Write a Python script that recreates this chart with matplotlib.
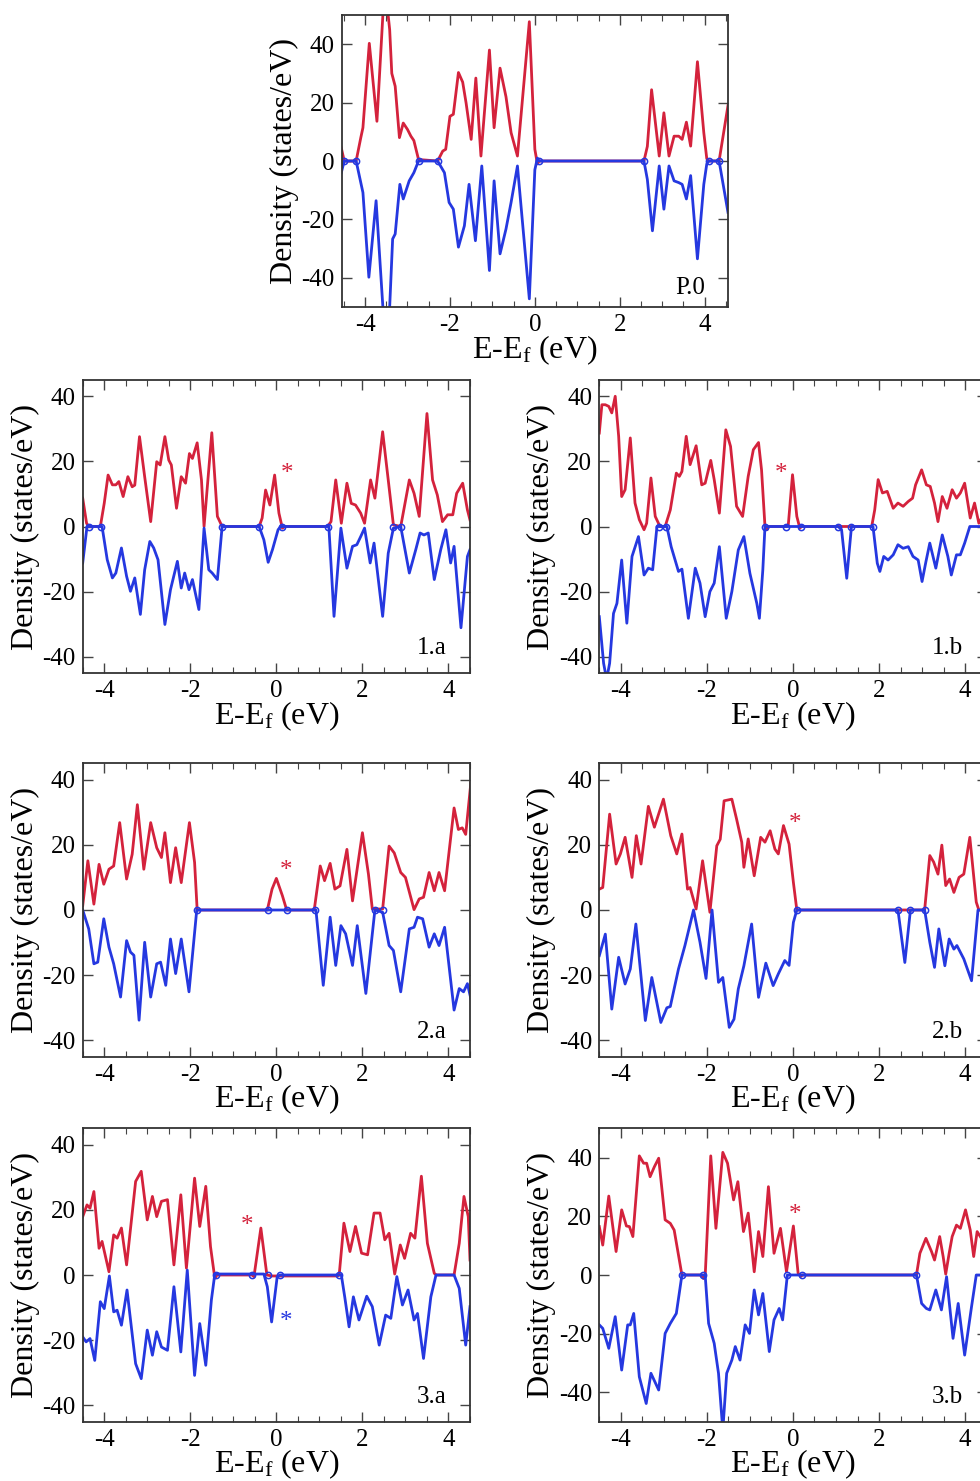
import numpy as np
import matplotlib
matplotlib.use('agg')
import matplotlib.pyplot as plt
from matplotlib.ticker import MultipleLocator

plt.rcParams.update({
    'font.family': 'Liberation Serif',
    'mathtext.fontset': 'custom',
    'mathtext.rm': 'Liberation Serif',
    'mathtext.it': 'Liberation Serif:italic',
    'axes.unicode_minus': False,
})

RED = '#d4223c'
BLUE = '#2538e0'

# spin-up / spin-down DOS, (E - Ef, states/eV)
p0_up = [(-4.56, 4.5), (-4.49, 0), (-4.21, 0), (-4.1, 8), (-4.05, 11.4), (-3.9, 40.3),
         (-3.72, 13.6), (-3.58, 50), (-3.5, 56), (-3.42, 45), (-3.37, 30), (-3.29, 25.6),
         (-3.19, 8), (-3.1, 13), (-3.0, 10.8), (-2.92, 8.5), (-2.85, 7), (-2.74, 0.5),
         (-2.29, 0), (-2.17, 3.4), (-2.1, 4), (-2.0, 15.3), (-1.92, 16), (-1.8, 30.3),
         (-1.7, 27), (-1.62, 19.9), (-1.5, 7.4), (-1.39, 28.4), (-1.27, 1.7), (-1.07, 38),
         (-0.96, 11.4), (-0.82, 31.8), (-0.68, 22), (-0.56, 9.7), (-0.41, 1.7), (-0.13, 47.7),
         (0.0, 4), (0.06, -1), (0.1, 0), (2.57, 0), (2.65, 5), (2.75, 24.4), (2.93, 1.7),
         (3.04, 16.5), (3.16, 1.7), (3.28, 8.5), (3.39, 8.5), (3.47, 7.4), (3.57, 13.3),
         (3.67, 5.1), (3.83, 34), (3.98, 9.7), (4.05, 0.8), (4.1, 0), (4.34, 0), (4.55, 19)]
p0_dn = [(-4.56, -4), (-4.49, 0), (-4.21, 0), (-4.05, -10.8), (-3.91, -39.8), (-3.74, -13.6),
         (-3.58, -50), (-3.5, -56), (-3.42, -50), (-3.35, -26.7), (-3.29, -25), (-3.18, -8),
         (-3.1, -13), (-2.96, -6.8), (-2.85, -4), (-2.74, 0), (-2.29, 0), (-2.13, -4),
         (-2.02, -14.2), (-1.92, -16.5), (-1.8, -29.5), (-1.66, -22.2), (-1.55, -8),
         (-1.4, -27.3), (-1.25, -1.7), (-1.07, -37.5), (-0.96, -6.8), (-0.82, -31.8),
         (-0.68, -23.3), (-0.56, -14.2), (-0.41, -1.7), (-0.13, -47.2), (0.0, -3), (0.06, 1),
         (0.1, 0), (2.57, 0), (2.65, -6.3), (2.77, -23.9), (2.93, -1.7), (3.04, -16.5),
         (3.16, -1.7), (3.28, -6.8), (3.39, -7.4), (3.47, -8), (3.57, -13), (3.67, -5),
         (3.83, -33.5), (3.98, -8), (4.05, -1), (4.1, 0), (4.34, 0), (4.55, -17.6)]

a1_up = [(-4.5, 8.7), (-4.41, 1), (-4.36, 0), (-4.09, 0), (-4.0, 7.1), (-3.91, 15.8),
         (-3.81, 12.8), (-3.73, 12.8), (-3.66, 13.8), (-3.56, 9.2), (-3.45, 15.3), (-3.35, 12.2),
         (-3.29, 12.7), (-3.18, 27.6), (-3.06, 15.3), (-2.92, 1.5), (-2.78, 19.9), (-2.7, 18.9),
         (-2.59, 27.6), (-2.5, 20.4), (-2.44, 18.9), (-2.32, 5.6), (-2.21, 15.3), (-2.11, 13.3),
         (-2.02, 22.4), (-1.95, 20.9), (-1.84, 25.7), (-1.74, 14.3), (-1.68, 0), (-1.5, 28.8),
         (-1.37, 3.1), (-1.26, 0), (-0.4, 0), (-0.33, 2.6), (-0.25, 11.2), (-0.15, 6.6),
         (-0.04, 15.8), (0.06, 4.1), (0.14, -0.5), (0.2, 0), (1.19, 0), (1.27, 1.5),
         (1.38, 14.3), (1.51, 1), (1.64, 13.3), (1.74, 7.1), (1.84, 6.6), (1.96, 4.1),
         (2.05, 1), (2.19, 14.3), (2.29, 8.7), (2.47, 29.1), (2.6, 14.3), (2.72, 0.5),
         (2.89, 0), (3.09, 14.3), (3.2, 10.2), (3.32, 3.1), (3.5, 34.7), (3.63, 14.3),
         (3.74, 9.7), (3.86, 1.5), (3.98, 3.6), (4.1, 3.6), (4.19, 10.2), (4.33, 13.3),
         (4.44, 5.1), (4.5, 2)]
a1_dn = [(-4.5, -11.2), (-4.4, 0), (-4.05, 0), (-3.93, -10.2), (-3.81, -15.8), (-3.73, -14.3),
         (-3.6, -6.6), (-3.48, -15.3), (-3.39, -19.9), (-3.29, -15.8), (-3.16, -27),
         (-3.06, -13.3), (-2.94, -4.6), (-2.85, -6.6), (-2.75, -10.2), (-2.59, -30.1),
         (-2.46, -19.4), (-2.3, -10.7), (-2.21, -18.9), (-2.13, -14.3), (-2.03, -19.4),
         (-1.95, -16.3), (-1.8, -25.5), (-1.68, -0.5), (-1.57, -13.3), (-1.49, -14.3),
         (-1.37, -16.3), (-1.26, 0), (-0.4, 0), (-0.29, -4.1), (-0.19, -11), (-0.09, -7.1),
         (0.04, -1), (0.1, 0), (1.22, 0), (1.34, -27.6), (1.5, -0.5), (1.64, -12.8),
         (1.77, -6.1), (1.87, -5.6), (1.96, -3.1), (2.05, -0.5), (2.18, -11.2), (2.27, -5.1),
         (2.47, -27.6), (2.6, -8.2), (2.72, -0.5), (2.89, 0), (3.09, -14.3), (3.24, -7.1),
         (3.34, -2), (3.43, -2.6), (3.53, -2), (3.67, -16.3), (3.82, -7.1), (3.94, -1),
         (4.05, -11.2), (4.13, -6.1), (4.29, -31.1), (4.44, -9.2), (4.5, -7.1)]

b1_up = [(-4.5, 28.7), (-4.44, 37.4), (-4.36, 37.4), (-4.28, 36.9), (-4.21, 34.9), (-4.13, 40),
         (-4.05, 27.7), (-3.98, 9.2), (-3.9, 11.3), (-3.78, 27.2), (-3.67, 7.2), (-3.57, 2.1),
         (-3.46, -1), (-3.4, 1), (-3.3, 14.9), (-3.2, 3.1), (-3.09, 0), (-2.97, 0), (-2.85, 5.1),
         (-2.71, 16.4), (-2.64, 15.4), (-2.58, 16.9), (-2.48, 27.7), (-2.39, 19), (-2.25, 24.8),
         (-2.12, 12.8), (-2.04, 13.3), (-1.91, 20.3), (-1.83, 14.4), (-1.71, 4.1), (-1.56, 29.7),
         (-1.45, 24.6), (-1.31, 6.2), (-1.17, 3.1), (-1.04, 15.4), (-0.92, 23.6), (-0.8, 25.8),
         (-0.73, 17.4), (-0.65, 0), (-0.6, -1), (-0.56, 0), (-0.15, 0), (-0.11, 0.2),
         (-0.01, 15.9), (0.09, 3.1), (0.16, -0.5), (0.2, 0), (1.83, 0), (1.9, 5.1), (1.98, 14.4),
         (2.08, 10.3), (2.19, 10.8), (2.33, 5.6), (2.44, 7.2), (2.56, 6.2), (2.68, 7.7),
         (2.78, 8.7), (2.85, 12.8), (2.99, 17.4), (3.1, 12.8), (3.19, 12.3), (3.29, 7.2),
         (3.37, 1.5), (3.47, 9.2), (3.58, 5.6), (3.7, 11.3), (3.8, 8.7), (3.89, 10.3),
         (3.99, 13.3), (4.12, 2.6), (4.22, 7.2), (4.32, 1), (4.4, 3), (4.5, 2)]
b1_dn = [(-4.5, -27.7), (-4.4, -42), (-4.33, -47), (-4.26, -42), (-4.17, -26.7), (-4.09, -23.6),
         (-3.98, -10.3), (-3.86, -29.7), (-3.74, -9.2), (-3.59, -3.1), (-3.46, -14.9),
         (-3.36, -12.8), (-3.26, -13.3), (-3.16, 0), (-2.93, 0), (-2.83, -6.2), (-2.66, -13.8),
         (-2.58, -13.1), (-2.43, -28.2), (-2.27, -12.8), (-2.16, -17.4), (-2.04, -27.7),
         (-1.93, -20), (-1.83, -17.4), (-1.71, -6.2), (-1.55, -28.2), (-1.42, -20),
         (-1.27, -7.2), (-1.14, -3.1), (-1.0, -14.4), (-0.84, -23.6), (-0.78, -28.2),
         (-0.7, -13.3), (-0.65, 0), (1.05, 0), (1.13, -1), (1.25, -15.9), (1.36, 0), (1.86, 0),
         (1.96, -11.3), (2.02, -13.8), (2.11, -9.2), (2.21, -10.3), (2.33, -8.7), (2.44, -5.6),
         (2.56, -6.7), (2.68, -6.2), (2.79, -9.2), (2.91, -10.3), (3.0, -16.9), (3.09, -10.8),
         (3.18, -5.1), (3.32, -12.8), (3.47, -2.6), (3.6, -9.2), (3.68, -14.9), (3.8, -8.7),
         (3.89, -8.7), (3.99, -5.1), (4.11, 0), (4.5, 0)]

a2_up = [(-4.5, 1.3), (-4.38, 15.1), (-4.24, 1.8), (-4.12, 14), (-4.01, 7.9), (-3.89, 12.5),
         (-3.78, 13.5), (-3.64, 26.8), (-3.48, 9.5), (-3.35, 17.1), (-3.23, 32.3), (-3.08, 12.5),
         (-2.92, 26.8), (-2.78, 19.1), (-2.67, 16.1), (-2.59, 23.7), (-2.46, 8.4), (-2.34, 19.1),
         (-2.21, 8.4), (-2.02, 26.8), (-1.9, 14.6), (-1.84, 0), (-0.21, 0), (-0.1, 6.4),
         (0.0, 9.7), (0.14, 4.4), (0.24, 0), (0.88, 0), (1.02, 13.5), (1.12, 9), (1.25, 14.3),
         (1.36, 6.4), (1.48, 7.4), (1.64, 18.6), (1.77, 2.8), (2.0, 23.7), (2.14, 11),
         (2.23, 0.3), (2.47, 0.3), (2.62, 19.6), (2.74, 17.5), (2.89, 11.5), (3.0, 10),
         (3.2, 0.1), (3.32, 3.4), (3.42, 3.9), (3.55, 11.5), (3.67, 5.9), (3.78, 11.5),
         (3.91, 5.9), (4.13, 31.3), (4.23, 24.7), (4.32, 25.2), (4.4, 23.2), (4.52, 39)]
a2_dn = [(-4.5, 0), (-4.36, -5.8), (-4.24, -16.5), (-4.15, -16), (-4.01, -2.7), (-3.89, -11.4),
         (-3.78, -16.5), (-3.62, -26.7), (-3.48, -9.4), (-3.39, -12.9), (-3.31, -13.9),
         (-3.19, -33.8), (-3.06, -9.9), (-2.92, -26.7), (-2.78, -16.5), (-2.69, -16),
         (-2.57, -23.1), (-2.46, -8.9), (-2.34, -19.5), (-2.21, -8.9), (-2.03, -25.1),
         (-1.85, 0), (0.92, 0), (1.09, -23.1), (1.25, -2.2), (1.38, -17), (1.5, -4.8),
         (1.61, -7.3), (1.77, -17), (1.88, -4.8), (2.08, -25.6), (2.29, 0), (2.47, -0.7),
         (2.62, -10.9), (2.72, -12.4), (2.89, -25.1), (3.09, -5.8), (3.2, -5.3), (3.28, -2.2),
         (3.4, -2.7), (3.55, -11.4), (3.67, -7.3), (3.78, -10.9), (3.91, -5.3), (4.13, -30.7),
         (4.25, -24.1), (4.35, -25.1), (4.44, -22.6), (4.52, -27.2)]

b2_up = [(-4.5, 6.4), (-4.42, 6.9), (-4.26, 29.4), (-4.11, 14.1), (-4.01, 17.2), (-3.9, 22.3),
         (-3.74, 10), (-3.64, 22.8), (-3.53, 14.1), (-3.36, 31.8), (-3.22, 25.4), (-3.01, 34),
         (-2.84, 22.8), (-2.7, 17.2), (-2.58, 23.3), (-2.45, 6.4), (-2.39, 6.9), (-2.25, 0.3),
         (-2.1, 15.1), (-1.93, -0.7), (-1.77, 19.7), (-1.69, 21.7), (-1.6, 33.5), (-1.42, 34),
         (-1.31, 27.9), (-1.19, 20.8), (-1.14, 13.1), (-1.04, 21.8), (-0.9, 10.5), (-0.75, 22.3),
         (-0.65, 20.8), (-0.53, 24.3), (-0.42, 18.7), (-0.34, 17.2), (-0.22, 25.9),
         (-0.09, 20.2), (0.01, 8.5), (0.09, 0), (3.06, 0), (3.18, 16.7), (3.27, 14.7),
         (3.37, 11), (3.46, 19.9), (3.55, 7.5), (3.64, 9.5), (3.74, 5.4), (3.86, 10),
         (3.97, 11), (4.11, 22.3), (4.26, 2.4), (4.32, 0), (4.5, 0)]
b2_dn = [(-4.5, -14), (-4.36, -7.4), (-4.21, -30.4), (-4.05, -14.5), (-3.9, -22.7),
         (-3.78, -18.1), (-3.65, -4.3), (-3.43, -33.9), (-3.28, -20.7), (-3.07, -34.5),
         (-2.93, -30), (-2.85, -29.6), (-2.66, -18.1), (-2.51, -10.9), (-2.31, 0),
         (-2.16, -9.9), (-2.02, -21), (-1.88, 0), (-1.73, -22.2), (-1.63, -20.7), (-1.48, -36),
         (-1.37, -33.5), (-1.27, -24.2), (-1.14, -17.1), (-0.96, -4.3), (-0.8, -26.8),
         (-0.63, -16.3), (-0.46, -23.2), (-0.34, -19.6), (-0.19, -15.5), (-0.09, -17),
         (0.01, -3.8), (0.09, 0), (2.44, 0), (2.6, -16.1), (2.73, 0), (3.06, 0), (3.18, -9.9),
         (3.29, -17.6), (3.39, -5.8), (3.53, -17.1), (3.63, -8.9), (3.74, -12), (3.81, -10.9),
         (3.97, -15), (4.15, -21.7), (4.3, 0), (4.5, 0)]

a3_up = [(-4.5, 17.9), (-4.4, 21.5), (-4.33, 20.5), (-4.24, 25.6), (-4.12, 8.2), (-4.05, 10.3),
         (-3.89, 1), (-3.78, 12.3), (-3.7, 11.3), (-3.6, 14.4), (-3.48, 3.1), (-3.27, 28.7),
         (-3.14, 31.8), (-3.0, 16.9), (-2.88, 24.1), (-2.78, 17.9), (-2.67, 22.6), (-2.53, 23.1),
         (-2.38, 3.1), (-2.22, 24.6), (-2.09, 2.1), (-1.9, 29.7), (-1.78, 14.9), (-1.64, 27.2),
         (-1.53, 8.7), (-1.43, -1), (-1.38, 0), (-0.56, 0), (-0.52, -0.5), (-0.36, 14.4),
         (-0.22, 0), (-0.1, -0.3), (1.42, -0.3), (1.46, 0), (1.57, 15.9), (1.71, 7.2),
         (1.84, 14.9), (1.98, 6.7), (2.12, 6.2), (2.27, 19), (2.41, 19), (2.52, 10.8),
         (2.62, 12.8), (2.75, 0.3), (2.88, 9.2), (2.98, 5.1), (3.12, 12.8), (3.22, 11.3),
         (3.37, 30.3), (3.51, 9.7), (3.67, 0.5), (3.72, 0), (4.13, 0), (4.25, 9.7),
         (4.36, 24.1), (4.46, 17.9), (4.5, 4.6)]
a3_dn = [(-4.5, -19), (-4.42, -20.5), (-4.33, -19.5), (-4.22, -26.2), (-4.09, -8.2),
         (-4.0, -10.3), (-3.88, -0.3), (-3.78, -11.3), (-3.7, -10.8), (-3.6, -15.4),
         (-3.47, -4.6), (-3.27, -27.2), (-3.14, -31.8), (-3.0, -16.9), (-2.88, -24.6),
         (-2.78, -17.4), (-2.67, -22.1), (-2.53, -23.1), (-2.38, -3.6), (-2.22, -23.6),
         (-2.07, 1.5), (-1.9, -30.8), (-1.78, -14.9), (-1.64, -27.7), (-1.51, -7.7),
         (-1.43, 0.3), (-1.38, 0.3), (-0.29, 0.3), (-0.21, -3.6), (-0.11, -14.4), (0.02, -0.5),
         (0.09, 0), (1.51, 0), (1.59, -6.8), (1.69, -15.9), (1.79, -6.7), (1.92, -13.8),
         (2.1, -6.5), (2.23, -9.7), (2.39, -21.5), (2.54, -12.3), (2.66, -13.3), (2.8, -0.5),
         (2.93, -9.2), (3.06, -4.6), (3.2, -13.8), (3.28, -11.8), (3.42, -25.6), (3.59, -6.7),
         (3.71, 0), (4.13, 0), (4.25, -4.1), (4.4, -21.5), (4.5, -9.7)]

b3_up = [(-4.5, 16.5), (-4.42, 10.2), (-4.28, 26.9), (-4.11, 8), (-3.98, 22.2), (-3.87, 16.7),
         (-3.8, 16.5), (-3.72, 13.1), (-3.57, 40.6), (-3.47, 38.1), (-3.4, 38.1), (-3.32, 33.5),
         (-3.22, 36.9), (-3.12, 39.8), (-2.97, 18.8), (-2.85, 17.6), (-2.76, 15.3), (-2.58, 0),
         (-2.12, 0), (-2.08, -1.2), (-2.04, -0.5), (-1.91, 40.6), (-1.79, 15.9), (-1.63, 41.8),
         (-1.52, 38.1), (-1.38, 25.6), (-1.28, 31.8), (-1.15, 14.8), (-1.04, 21.1), (-0.9, 1.1),
         (-0.8, 14.8), (-0.7, 6.3), (-0.57, 30.1), (-0.44, 7.4), (-0.29, 15.9), (-0.15, 1.1),
         (0.01, 16.7), (0.12, 0.6), (0.18, -0.5), (0.22, 0), (2.87, 0), (2.95, 7.4),
         (3.09, 12.5), (3.22, 8), (3.29, 5.1), (3.41, 13.1), (3.49, 6.3), (3.55, 0.3),
         (3.63, 7.4), (3.7, 13.1), (3.8, 17), (3.89, 15.9), (4.01, 22.2), (4.12, 15.3),
         (4.2, 6.3), (4.28, 14.8), (4.4, 12), (4.5, 8)]
b3_dn = [(-4.5, -17), (-4.42, -18.2), (-4.28, -25), (-4.13, -14.2), (-3.98, -32.4),
         (-3.84, -17), (-3.78, -17), (-3.7, -13.1), (-3.57, -34.7), (-3.41, -43.8),
         (-3.3, -33.5), (-3.12, -39.2), (-2.97, -19.9), (-2.85, -16.5), (-2.71, -13.1),
         (-2.58, 0), (-2.04, 0), (-1.96, -16.5), (-1.83, -23.3), (-1.73, -33.5), (-1.63, -53),
         (-1.54, -33.5), (-1.42, -29), (-1.34, -24.4), (-1.23, -29), (-1.11, -17),
         (-1.01, -19.9), (-0.9, -5.1), (-0.8, -13.6), (-0.7, -6.3), (-0.55, -26.1),
         (-0.44, -15.3), (-0.32, -11.4), (-0.24, -15.3), (-0.13, 0), (2.87, 0), (2.99, -9.7),
         (3.1, -11.4), (3.18, -11.9), (3.32, -5.1), (3.45, -11.9), (3.57, -0.6), (3.72, -21.6),
         (3.84, -9.7), (3.99, -27.3), (4.15, -10.8), (4.26, 0), (4.5, 0)]

# little open rings where the curves join the zero line
p0_rings = [-4.49, -4.21, -2.74, -2.29, 0.1, 2.57, 4.1, 4.34]
a1_rings = [-4.36, -4.07, -1.26, -0.4, 0.14, 1.2, 2.72, 2.89]
b1_rings = [-3.12, -2.95, -0.65, -0.15, 0.18, 1.05, 1.36, 1.85]
a2_rings = [-1.84, -0.2, 0.24, 0.9, 2.29, 2.47]
b2_rings = [0.09, 2.44, 2.73, 3.06]
a3_rings = [-1.4, -0.56, -0.2, 0.09, 1.46]
b3_rings = [-2.58, -2.08, -0.13, 0.2, 2.87]

# asterisks marking the defect states
a1_stars = [(0.24, 16.2, RED)]
b1_stars = [(-0.28, 16.2, RED)]
a2_stars = [(0.22, 12.0, RED)]
b2_stars = [(0.05, 26.4, RED)]
a3_stars = [(-0.67, 15.1, RED), (0.22, -14.4, BLUE)]
b3_stars = [(0.05, 20.5, RED)]

W, H = 980, 1481
fig = plt.figure(figsize=(W / 100, H / 100), dpi=100)


def px_axes(left, top, right, bottom):
    return fig.add_axes([left / W, 1 - bottom / H, (right - left) / W, (bottom - top) / H])


def draw_panel(ax, up, dn, rings, stars, name, xlim, ylim, name_y=0.085):
    ux, uy = np.array(up).T
    dx, dy = np.array(dn).T
    ax.plot(ux, uy, color=RED, lw=2.0, solid_joinstyle='round')
    ax.plot(dx, dy, color=BLUE, lw=2.0, solid_joinstyle='round')
    ax.plot(rings, np.zeros(len(rings)), 'o', ms=4.5, mfc='none', mec=BLUE, mew=1.1)
    for sx, sy, c in stars:
        ax.text(sx, sy, '*', color=c, fontsize=18, ha='center', va='center')
    ax.text(0.94, name_y, name, transform=ax.transAxes, fontsize=18,
            ha='right', va='center')
    ax.set_xlim(*xlim)
    ax.set_ylim(*ylim)
    ax.set_xticks([-4, -2, 0, 2, 4])
    ax.set_yticks([-40, -20, 0, 20, 40])
    ax.xaxis.set_minor_locator(MultipleLocator(0.5))
    ax.tick_params(which='both', direction='in', top=True, right=True,
                   color='#444444', labelsize=18, pad=5)
    ax.tick_params(which='major', length=7, width=1)
    ax.tick_params(which='minor', length=4, width=0.8)
    for s in ax.spines.values():
        s.set_color('#333333')
        s.set_linewidth(1.3)
    ax.set_xlabel(r'E-E$_\mathrm{f}$ (eV)', fontsize=23, labelpad=-2)
    ax.set_ylabel('Density (states/eV)', fontsize=23, labelpad=2)


ax0 = px_axes(341.7, 15, 728, 307)
draw_panel(ax0, p0_up, p0_dn, p0_rings, [], 'P.0', (-4.55, 4.55), (-50, 50), 0.065)

left_col = (82.7, 470)
right_col = (599.3, 986.6)
rows = [(380, 673), (763.3, 1056.7), (1128.3, 1421.7)]

panels = [
    (left_col, rows[0], a1_up, a1_dn, a1_rings, a1_stars, '1.a', (-45, 45)),
    (right_col, rows[0], b1_up, b1_dn, b1_rings, b1_stars, '1.b', (-45, 45)),
    (left_col, rows[1], a2_up, a2_dn, a2_rings, a2_stars, '2.a', (-45, 45)),
    (right_col, rows[1], b2_up, b2_dn, b2_rings, b2_stars, '2.b', (-45, 45)),
    (left_col, rows[2], a3_up, a3_dn, a3_rings, a3_stars, '3.a', (-45, 45)),
    (right_col, rows[2], b3_up, b3_dn, b3_rings, b3_stars, '3.b', (-50, 50)),
]
for (l, r), (t, b), up, dn, rings, stars, name, ylim in panels:
    ax = px_axes(l, t, r, b)
    draw_panel(ax, up, dn, rings, stars, name, (-4.5, 4.5), ylim)

fig.savefig('out.png', dpi=100)
